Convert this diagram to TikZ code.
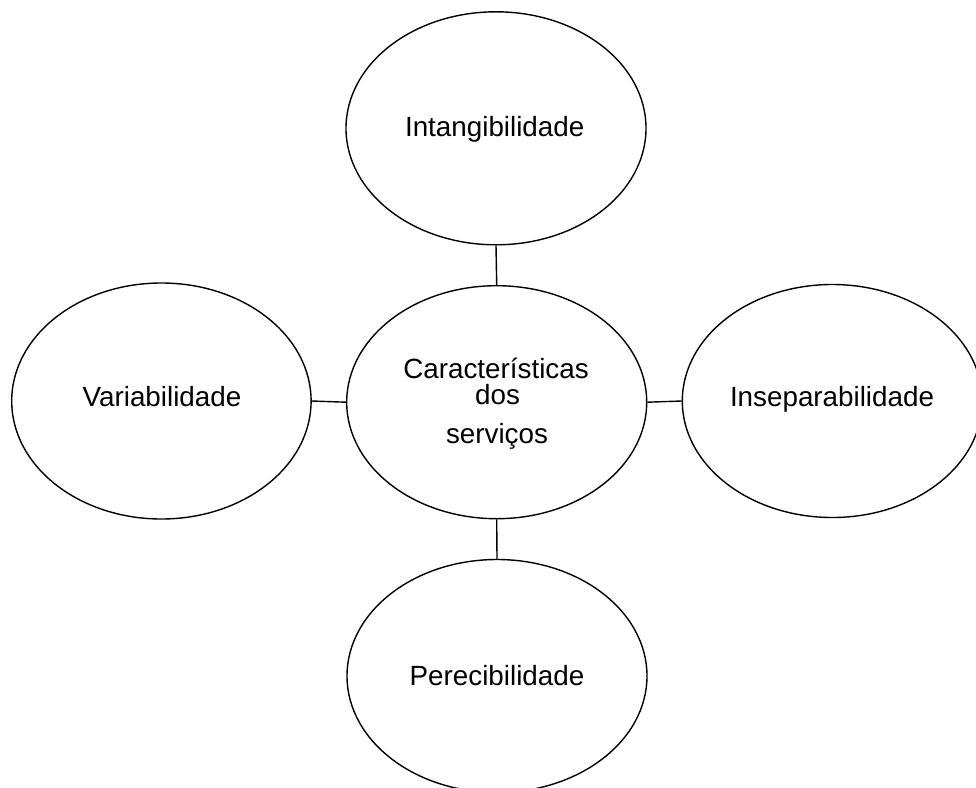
\documentclass[tikz,border=0pt]{standalone}
\usepackage{fontspec}
\setmainfont{Liberation Sans}
\usetikzlibrary{shapes.geometric}
\begin{document}
\begin{tikzpicture}[x=1pt,y=-1pt,
  oval/.style={ellipse,draw=black,line width=1.4pt,inner sep=0pt,minimum width=300pt,minimum height=233pt},
  lbl/.style={anchor=base,inner sep=0pt,font=\fontsize{27.8}{33}\selectfont},
  link/.style={draw=black,line width=1.4pt}]
\useasboundingbox (0,0) rectangle (976,787);
\begin{scope}
\clip (0,0) rectangle (976,787);
\node[oval] (top) at (496,128.3) {};
\node[oval] (ctr) at (496.7,402.2) {};
\node[oval,minimum width=299.4pt,minimum height=236pt] (left) at (161.4,401) {};
\node[oval] (right) at (832.3,401) {};
\node[oval] (bot) at (497,676) {};
\end{scope}
\node[lbl] (t1) at (494.7,136.7) {Intangibilidade};
\node[lbl] (c1) at (496,378) {Características};
\node[lbl] (c2) at (497.5,404.5) {dos};
\node[lbl] (c3) at (497,443) {serviços};
\node[lbl] (l1) at (162,406.7) {Variabilidade};
\node[lbl] (r1) at (832,406.7) {Inseparabilidade};
\node[lbl] (b1) at (497,685.5) {Perecibilidade};
\path[link] (top.south) -- (ctr.north);
\path[link] (ctr.south) -- (bot.north);
\path[link] (left.east) -- (ctr.west);
\path[link] (ctr.east) -- (right.west);
\end{tikzpicture}
\end{document}
